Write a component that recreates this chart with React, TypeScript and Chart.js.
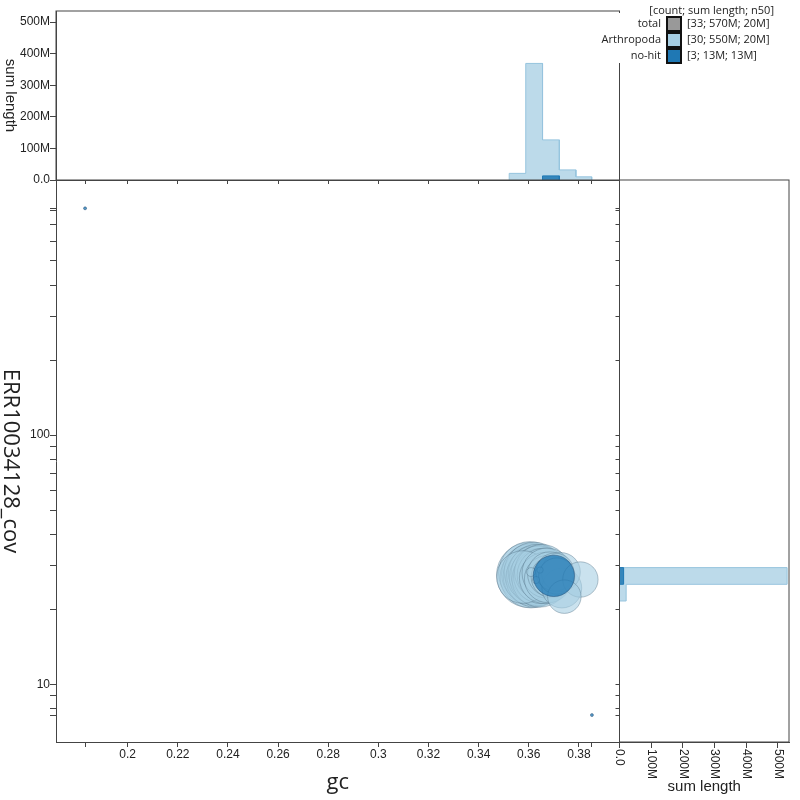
import React, { useEffect, useRef } from "react";
import { Chart, registerables } from "chart.js";

Chart.register(...registerables);

// ---------- data ----------
const X_MIN = 0.1714;
const X_MAX = 0.3962;
const Y_MIN = 5.87;
const Y_MAX = 1056;
const LEN_MAX = 535e6;

const X_TICKS = [0.183, 0.2, 0.22, 0.24, 0.26, 0.28, 0.3, 0.32, 0.34, 0.36, 0.38, 0.3852];
const X_TICK_LABELS = ["", "0.2", "0.22", "0.24", "0.26", "0.28", "0.3", "0.32", "0.34", "0.36", "0.38", ""];
const Y_TICKS = [7.53, 8, 9, 10, 20, 30, 40, 50, 60, 70, 80, 90, 100, 200, 300, 400, 500, 600, 700, 800, 813];
const Y_TICK_LABELS = ["", "", "", "10", "", "", "", "", "", "", "", "", "100", "", "", "", "", "", "", "", ""];
const LEN_TICKS = [0, 1e8, 2e8, 3e8, 4e8, 5e8];
const LEN_TICK_LABELS = ["0.0", "100M", "200M", "300M", "400M", "500M"];

// Arthropoda sequences (length in Mb, gc, coverage)
const ARTH_LEN = [32, 30, 29, 28, 27, 27, 26, 26, 25, 25, 24, 24, 23, 23, 22, 21, 20, 19, 17, 15, 13, 12, 11.5, 11, 10, 9.5, 8.5, 0.6, 0.4, 0.3];
const ARTH_GC = [0.3601, 0.3605, 0.3609, 0.3613, 0.3617, 0.3621, 0.3625, 0.3629, 0.3633, 0.3637, 0.3641, 0.3645, 0.3649, 0.3653, 0.3661, 0.3577, 0.3665, 0.3673, 0.3677, 0.3684, 0.3692, 0.3732, 0.3728, 0.3704, 0.3712, 0.3806, 0.3742, 0.3609, 0.3629, 0.3645];
const ARTH_COV = [27.45, 27.96, 26.95, 27.7, 27.2, 28.22, 26.71, 27.45, 27.96, 26.95, 27.7, 26.46, 27.2, 28.22, 27.45, 26.95, 26.71, 27.96, 26.46, 27.7, 26.95, 24.34, 28.22, 28.22, 27.2, 26.34, 22.48, 28.22, 26.22, 28.75];

// no-hit sequences
const NOHIT_LEN = [13, 0.01, 0.01];
const NOHIT_GC = [0.37, 0.183, 0.3852];
const NOHIT_COV = [27.25, 813, 7.53];

// gc histogram (sum length per bin)
const GC_EDGES_ARTH = [0.3522, 0.3588, 0.3655, 0.3722, 0.3788, 0.3851];
const GC_HIST_ARTH = [21e6, 369e6, 127e6, 32e6, 10e6];
const GC_EDGES_NOHIT = [0.3655, 0.3722];
const GC_HIST_NOHIT = [13e6];

// coverage histogram (sum length per bin)
const COV_EDGES_ARTH = [21.6, 25.2, 29.4];
const COV_HIST_ARTH = [21e6, 529e6];
const COV_EDGES_NOHIT = [25.2, 29.4];
const COV_HIST_NOHIT = [13e6];

// legend
const LEGEND_NAMES = ["total", "Arthropoda", "no-hit"];
const LEGEND_STATS = ["[33; 570M; 20M]", "[30; 550M; 20M]", "[3; 13M; 13M]"];
const LEGEND_COLORS = ["#999999", "#a6cee3", "#1f78b4"];

// ---------- style ----------
const AXIS = "#444444";
const TEXT = "#222222";
const SANS = '"Liberation Sans", Arial, Helvetica, sans-serif';
const OPEN = '"Open Sans", "Noto Sans", sans-serif';
const R_PER_SQRT_MB = 5.74;

function bubbles(lens: number[], gcs: number[], covs: number[]) {
  return lens.map((l, i) => ({ x: gcs[i], y: covs[i], r: Math.max(1.5, R_PER_SQRT_MB * Math.sqrt(l)) }));
}
function vSteps(edges: number[], vals: number[]) {
  const pts: { x: number; y: number }[] = [{ x: edges[0], y: 0 }];
  vals.forEach((v, i) => {
    pts.push({ x: edges[i], y: v }, { x: edges[i + 1], y: v });
  });
  pts.push({ x: edges[edges.length - 1], y: 0 });
  return pts;
}
function hSteps(edges: number[], vals: number[]) {
  const pts: { x: number; y: number }[] = [{ x: 0, y: edges[0] }];
  vals.forEach((v, i) => {
    pts.push({ x: v, y: edges[i] }, { x: v, y: edges[i + 1] });
  });
  pts.push({ x: 0, y: edges[edges.length - 1] });
  return pts;
}

const tickFont = { family: SANS, size: 12 };
function axisStyle(tickLength: number) {
  return {
    grid: { drawOnChartArea: false, drawTicks: true, tickLength, color: AXIS, lineWidth: 1 },
    border: { display: true, color: AXIS, width: 1 },
  };
}
function drawFrame(chart: any) {
  const { ctx, chartArea: a } = chart;
  ctx.save();
  ctx.strokeStyle = AXIS;
  ctx.lineWidth = 1;
  ctx.strokeRect(a.left, a.top, a.right - a.left, a.bottom - a.top);
  ctx.restore();
}
function rotText(ctx: CanvasRenderingContext2D, text: string, x: number, y: number, font: string, align: CanvasTextAlign = "center") {
  ctx.save();
  ctx.translate(x, y);
  ctx.rotate(Math.PI / 2);
  ctx.font = font;
  ctx.fillStyle = TEXT;
  ctx.textAlign = align;
  ctx.textBaseline = "middle";
  ctx.fillText(text, 0, 0);
  ctx.restore();
}

const xTicksFn = (s: any) => {
  s.ticks = X_TICKS.map((v) => ({ value: v }));
};
const yTicksFn = (s: any) => {
  s.ticks = Y_TICKS.map((v) => ({ value: v }));
};
const lenTicksFn = (s: any) => {
  s.ticks = LEN_TICKS.map((v) => ({ value: v }));
};

export default function App() {
  const mainRef = useRef<HTMLCanvasElement>(null);
  const topRef = useRef<HTMLCanvasElement>(null);
  const rightRef = useRef<HTMLCanvasElement>(null);

  useEffect(() => {
    const charts: Chart[] = [];

    // ---------- main scatter ----------
    charts.push(
      new Chart(mainRef.current!, {
        type: "bubble",
        data: {
          datasets: [
            {
              label: "no-hit",
              order: 0,
              data: bubbles(NOHIT_LEN, NOHIT_GC, NOHIT_COV),
              backgroundColor: "rgba(31,120,180,0.75)",
              borderColor: "rgba(20,60,100,0.55)",
              borderWidth: 0.8,
            },
            {
              label: "Arthropoda",
              order: 1,
              data: bubbles(ARTH_LEN, ARTH_GC, ARTH_COV),
              backgroundColor: "rgba(166,206,227,0.6)",
              borderColor: "rgba(80,110,130,0.5)",
              borderWidth: 0.8,
            },
          ],
        } as any,
        options: {
          responsive: false,
          animation: false,
          events: [],
          layout: { padding: { left: 0, right: 180.5, top: 180, bottom: 0 } },
          plugins: { legend: { display: false }, tooltip: { enabled: false } },
          scales: {
            x: {
              type: "linear",
              position: "bottom",
              min: X_MIN,
              max: X_MAX,
              afterFit: (s: any) => {
                s.height = 58;
              },
              afterBuildTicks: xTicksFn,
              ticks: {
                autoSkip: false,
                maxRotation: 0,
                minRotation: 0,
                padding: 0,
                font: tickFont,
                color: TEXT,
                callback: (_v: any, i: number) => X_TICK_LABELS[i],
              },
              ...axisStyle(5),
            },
            y: {
              type: "logarithmic",
              position: "left",
              min: Y_MIN,
              max: Y_MAX,
              afterFit: (s: any) => {
                s.width = 56;
              },
              afterBuildTicks: yTicksFn,
              ticks: {
                autoSkip: false,
                padding: 0,
                font: tickFont,
                color: TEXT,
                callback: (_v: any, i: number) => Y_TICK_LABELS[i],
              },
              ...axisStyle(6),
            },
          } as any,
        },
        plugins: [
          {
            id: "mainTitles",
            afterDraw(chart: any) {
              const { ctx, chartArea: a } = chart;
              ctx.save();
              ctx.font = `22px ${OPEN}`;
              ctx.fillStyle = TEXT;
              ctx.textAlign = "center";
              ctx.textBaseline = "middle";
              ctx.fillText("gc", (a.left + a.right) / 2, 783);
              ctx.restore();
              rotText(ctx, "ERR10034128_cov", 10, (a.top + a.bottom) / 2, `22px ${OPEN}`);
            },
          },
        ],
      })
    );

    // ---------- top gc histogram ----------
    charts.push(
      new Chart(topRef.current!, {
        type: "line",
        data: {
          datasets: [
            {
              label: "no-hit",
              order: 0,
              data: vSteps(GC_EDGES_NOHIT, GC_HIST_NOHIT),
              backgroundColor: "rgba(31,120,180,0.85)",
              borderColor: "rgba(31,120,180,1)",
              borderWidth: 1,
              fill: "origin",
              pointRadius: 0,
              tension: 0,
            },
            {
              label: "Arthropoda",
              order: 1,
              data: vSteps(GC_EDGES_ARTH, GC_HIST_ARTH),
              backgroundColor: "rgba(166,206,227,0.75)",
              borderColor: "rgba(150,196,222,1)",
              borderWidth: 1,
              fill: "origin",
              pointRadius: 0,
              tension: 0,
            },
          ],
        } as any,
        options: {
          responsive: false,
          animation: false,
          events: [],
          layout: { padding: { left: 0, right: 180.5, top: 11, bottom: 620 } },
          plugins: { legend: { display: false }, tooltip: { enabled: false } },
          scales: {
            x: {
              type: "linear",
              position: "bottom",
              min: X_MIN,
              max: X_MAX,
              afterFit: (s: any) => {
                s.height = 0;
              },
              afterBuildTicks: xTicksFn,
              ticks: { autoSkip: false, maxRotation: 0, callback: () => "" },
              ...axisStyle(4),
            },
            y: {
              type: "linear",
              position: "left",
              min: 0,
              max: LEN_MAX,
              afterFit: (s: any) => {
                s.width = 56;
              },
              afterBuildTicks: lenTicksFn,
              ticks: {
                autoSkip: false,
                padding: 0,
                font: tickFont,
                color: TEXT,
                callback: (_v: any, i: number) => LEN_TICK_LABELS[i],
              },
              ...axisStyle(6),
            },
          } as any,
        },
        plugins: [
          {
            id: "topDecor",
            afterDraw(chart: any) {
              const { ctx, chartArea: a } = chart;
              drawFrame(chart);
              rotText(ctx, "sum length", 10, (a.top + a.bottom) / 2, `15px ${SANS}`);
              // legend
              ctx.save();
              ctx.fillStyle = "#ffffff";
              ctx.fillRect(598, 13, 192, 50);
              ctx.font = `11px ${OPEN}`;
              ctx.fillStyle = TEXT;
              ctx.textBaseline = "middle";
              ctx.textAlign = "right";
              ctx.fillText("[count; sum length; n50]", 774, 11);
              LEGEND_NAMES.forEach((name, i) => {
                const cy = 24 + 16 * i;
                ctx.fillStyle = TEXT;
                ctx.textAlign = "right";
                ctx.fillText(name, 661, cy);
                ctx.fillStyle = LEGEND_COLORS[i];
                ctx.fillRect(667, cy - 7, 14, 14);
                ctx.strokeStyle = "#111111";
                ctx.lineWidth = 2;
                ctx.strokeRect(667, cy - 7, 14, 14);
                ctx.fillStyle = TEXT;
                ctx.textAlign = "left";
                ctx.fillText(LEGEND_STATS[i], 687, cy);
              });
              ctx.restore();
            },
          },
        ],
      })
    );

    // ---------- right coverage histogram ----------
    charts.push(
      new Chart(rightRef.current!, {
        type: "line",
        data: {
          datasets: [
            {
              label: "no-hit",
              order: 0,
              data: hSteps(COV_EDGES_NOHIT, COV_HIST_NOHIT),
              backgroundColor: "rgba(31,120,180,0.85)",
              borderColor: "rgba(31,120,180,1)",
              borderWidth: 1,
              fill: "origin",
              pointRadius: 0,
              tension: 0,
            },
            {
              label: "Arthropoda",
              order: 1,
              data: hSteps(COV_EDGES_ARTH, COV_HIST_ARTH),
              backgroundColor: "rgba(166,206,227,0.75)",
              borderColor: "rgba(150,196,222,1)",
              borderWidth: 1,
              fill: "origin",
              pointRadius: 0,
              tension: 0,
            },
          ],
        } as any,
        options: {
          responsive: false,
          animation: false,
          events: [],
          indexAxis: "y",
          layout: { padding: { left: 619.5, right: 11, top: 180, bottom: 58 } },
          plugins: { legend: { display: false }, tooltip: { enabled: false } },
          scales: {
            x: {
              type: "linear",
              position: "bottom",
              min: 0,
              max: LEN_MAX,
              afterFit: (s: any) => {
                s.height = 0;
              },
              afterBuildTicks: lenTicksFn,
              ticks: { autoSkip: false, maxRotation: 0, callback: () => "" },
              ...axisStyle(6),
            },
            y: {
              type: "logarithmic",
              position: "left",
              min: Y_MIN,
              max: Y_MAX,
              afterFit: (s: any) => {
                s.width = 0;
              },
              afterBuildTicks: yTicksFn,
              ticks: { autoSkip: false, callback: () => "" },
              ...axisStyle(4),
            },
          } as any,
        },
        plugins: [
          {
            id: "rightDecor",
            afterDraw(chart: any) {
              const { ctx, chartArea: a } = chart;
              drawFrame(chart);
              const xs = chart.scales.x;
              LEN_TICKS.forEach((v, i) => {
                rotText(ctx, LEN_TICK_LABELS[i], xs.getPixelForValue(v), a.bottom + 7, `12px ${SANS}`, "left");
              });
              ctx.save();
              ctx.font = `15px ${SANS}`;
              ctx.fillStyle = TEXT;
              ctx.textAlign = "center";
              ctx.textBaseline = "middle";
              ctx.fillText("sum length", (a.left + a.right) / 2, 787);
              ctx.restore();
            },
          },
        ],
      })
    );

    return () => charts.forEach((c) => c.destroy());
  }, []);

  const cv: React.CSSProperties = { position: "absolute", left: 0, top: 0, width: 800, height: 800 };
  return (
    <div style={{ position: "absolute", left: 0, top: 0, width: 800, height: 800, background: "#ffffff" }}>
      <canvas ref={mainRef} width={800} height={800} style={cv} />
      <canvas ref={topRef} width={800} height={800} style={cv} />
      <canvas ref={rightRef} width={800} height={800} style={cv} />
    </div>
  );
}
